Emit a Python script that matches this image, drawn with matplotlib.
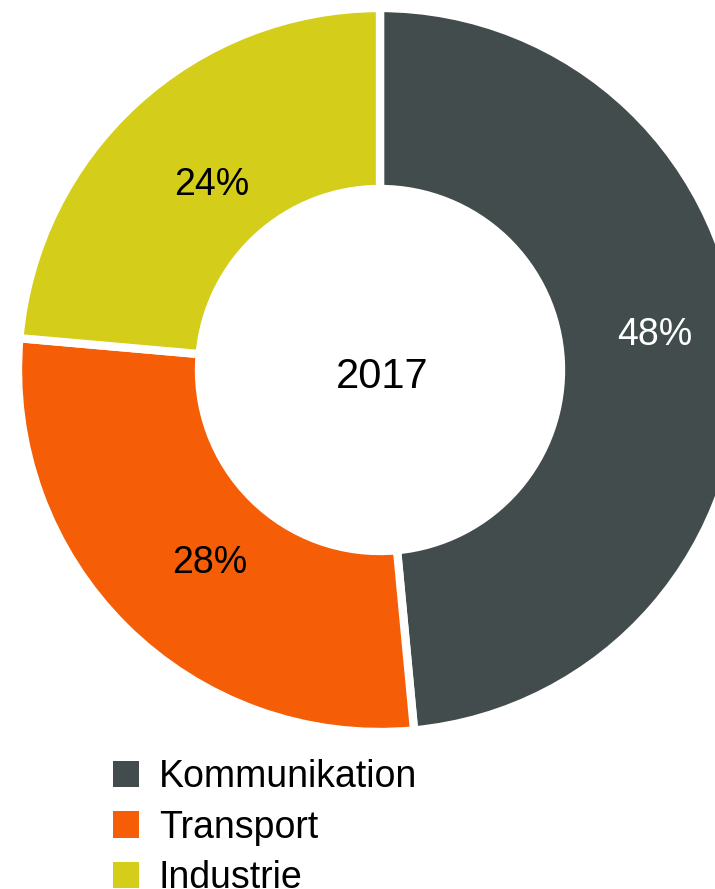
import matplotlib.pyplot as plt
from matplotlib.patches import Patch

# Data
labels = ["Kommunikation", "Transport", "Industrie"]
shares = [48.5, 27.9, 23.6]
pct_labels = ["48%", "28%", "24%"]
colors = ["#434C4D", "#F55D06", "#D4CD1A"]
pct_colors = ["white", "black", "black"]
center_label = "2017"

plt.rcParams['font.family'] = ['Liberation Sans', 'DejaVu Sans']

W, H = 715, 889
fig = plt.figure(figsize=(W / 100, H / 100), dpi=100)
ax = fig.add_axes([0, 0, 1, 1])

cx, cy, r = 380, H - 370, 362
wedges, _ = ax.pie(shares, colors=colors, startangle=90, counterclock=False,
                   center=(cx, cy), radius=r, frame=True,
                   wedgeprops=dict(width=181, edgecolor='white', linewidth=6))
ax.set_xlim(0, W)
ax.set_ylim(0, H)
ax.set_aspect('equal')
ax.axis('off')

# percentage labels
pos = [(655, H - 335), (210, H - 563), (212, H - 185)]
for (x, y), t, c in zip(pos, pct_labels, pct_colors):
    ax.text(x, y, t, ha='center', va='center', fontsize=27, color=c)

ax.text(382, H - 377, center_label, ha='center', va='center', fontsize=30, color='black')

handles = [Patch(facecolor=c, edgecolor='none') for c in colors]
ax.legend(handles, labels, loc='upper left', bbox_to_anchor=(113 / W, 1 - 759 / H),
          frameon=False, fontsize=27, handlelength=0.7, handleheight=0.7,
          handletextpad=0.52, labelspacing=0.39, borderpad=0, borderaxespad=0)

fig.savefig("out.png", dpi=100)
